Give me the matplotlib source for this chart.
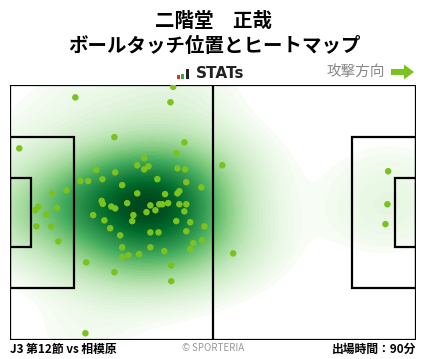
import numpy as np
import matplotlib
matplotlib.use("Agg")
import matplotlib.pyplot as plt
from matplotlib.patches import Rectangle, Polygon

plt.rcParams['font.family'] = ['Noto Sans CJK JP', 'DejaVu Sans']

PITCH_L = 105.0
PITCH_W = 68.0

player_name = "二階堂　正哉"
chart_title = "ボールタッチ位置とヒートマップ"
match_label = "J3 第12節 vs 相模原"
minutes_label = "出場時間：90分"

# ball touch positions (metres, x from own goal, y from top touchline)
touch_x = [16.9, 42.2, 41.5, 2.4, 27.0, 45.1, 43.0, 34.7, 32.9, 35.8,
           34.7, 43.3, 45.3, 22.3, 27.2, 18.2, 20.2, 23.9, 38.1, 45.6,
           29.0, 49.5, 14.6, 10.9, 32.9, 40.1, 43.8, 43.3, 23.7, 24.0,
           30.3, 7.3, 12.2, 36.3, 38.6, 39.4, 40.9, 43.8, 45.6, 26.2,
           27.2, 6.5, 9.4, 6.8, 10.7, 12.5, 37.6, 35.3, 45.1, 21.5,
           31.9, 24.4, 31.6, 43.0, 46.6, 50.3, 25.9, 36.3, 38.4, 45.6,
           28.5, 49.7, 47.4, 29.0, 36.3, 46.6, 39.9, 33.4, 30.6, 29.0,
           19.7, 41.7, 27.0, 41.7, 19.5, 54.9, 57.7, 97.8, 97.6, 97.1]
touch_y = [3.3, 0.5, 4.6, 16.9, 13.9, 15.3, 18.2, 19.5, 21.4, 21.7,
           22.5, 22.2, 22.5, 22.7, 23.3, 25.6, 25.6, 25.1, 25.1, 25.9,
           26.7, 27.3, 28.1, 28.9, 28.9, 29.1, 28.3, 28.9, 30.9, 31.7,
           31.5, 32.5, 32.8, 32.1, 31.8, 31.8, 31.5, 31.8, 31.8, 32.4,
           32.9, 33.4, 34.5, 37.7, 37.7, 41.7, 33.4, 33.9, 33.7, 34.7,
           34.7, 36.1, 36.3, 36.3, 36.6, 37.7, 38.2, 39.3, 39.3, 39.0,
           40.1, 41.4, 42.2, 43.3, 43.3, 43.8, 44.3, 45.1, 45.4, 45.9,
           47.3, 48.1, 49.9, 52.3, 66.2, 21.4, 44.9, 23.0, 31.8, 37.1]

BW_ADJUST = 1.35
THRESH = 0.03
N_LEVELS = 60
GAMMA = 0.85


def kde_grid(xs, ys, gx, gy):
    # gaussian kde, scott bandwidth, full covariance
    data = np.vstack([xs, ys])
    n = data.shape[1]
    cov = np.cov(data) * n ** (-2.0 / 6.0) * BW_ADJUST ** 2
    inv = np.linalg.inv(cov)
    X, Y = np.meshgrid(gx, gy)
    pts = np.vstack([X.ravel(), Y.ravel()])
    dens = np.zeros(pts.shape[1])
    for i in range(n):
        d = pts - data[:, i:i + 1]
        dens += np.exp(-0.5 * np.sum(d * (inv @ d), axis=0))
    return X, Y, dens.reshape(X.shape)


def iso_levels(Z, props):
    # density values that enclose given mass proportions (like seaborn)
    vals = np.sort(Z.ravel())[::-1]
    cum = np.cumsum(vals) / vals.sum()
    idx = np.searchsorted(cum, 1 - np.asarray(props))
    return np.take(vals, idx, mode="clip")


fig = plt.figure(figsize=(4.28, 3.59), dpi=100)
ax = fig.add_axes([10 / 428, 19 / 359, 406 / 428, 255 / 359])
ax.set_xlim(0, PITCH_L)
ax.set_ylim(PITCH_W, 0)
ax.axis("off")

gx = np.linspace(-15, PITCH_L + 15, 300)
gy = np.linspace(-15, PITCH_W + 15, 200)
X, Y, Z = kde_grid(np.array(touch_x), np.array(touch_y), gx, gy)
lv = iso_levels(Z, np.linspace(THRESH, 1, N_LEVELS))
lv = np.unique(lv)
lv = np.append(lv, Z.max() * 1.01)
greens = plt.get_cmap("Greens")
fill_cols = [greens(t ** GAMMA) for t in np.linspace(0, 1, len(lv) - 1)]
ax.contourf(X, Y, Z, levels=lv, colors=fill_cols, zorder=1)

# pitch lines
lc = "black"
lw = 1.6
ax.add_patch(Rectangle((0, 0), PITCH_L, PITCH_W, fill=False, ec=lc, lw=lw, zorder=3))
ax.plot([PITCH_L / 2, PITCH_L / 2], [0, PITCH_W], color=lc, lw=lw, zorder=3)
box_top = (PITCH_W - 40.32) / 2
ga_top = (PITCH_W - 18.32) / 2
ax.add_patch(Rectangle((0, box_top), 16.5, 40.32, fill=False, ec=lc, lw=lw, zorder=3))
ax.add_patch(Rectangle((PITCH_L - 16.5, box_top), 16.5, 40.32, fill=False, ec=lc, lw=lw, zorder=3))
ax.add_patch(Rectangle((0, ga_top), 5.5, 18.32, fill=False, ec=lc, lw=lw, zorder=3))
ax.add_patch(Rectangle((PITCH_L - 5.5, ga_top), 5.5, 18.32, fill=False, ec=lc, lw=lw, zorder=3))

ax.scatter(touch_x, touch_y, s=22, color="#7cc21e", edgecolors="none", zorder=4)

# header / footer overlay in pixel coords
ov = fig.add_axes([0, 0, 1, 1], facecolor="none")
ov.set_xlim(0, 428)
ov.set_ylim(359, 0)
ov.axis("off")

ov.text(214, 21, player_name, ha="center", va="center", fontsize=14, fontweight="bold")
ov.text(214, 46, chart_title, ha="center", va="center", fontsize=14, fontweight="bold")

# STATs logo
ov.add_patch(Rectangle((177, 75), 3.5, 4, color="#e03030", lw=0))
ov.add_patch(Rectangle((181, 73.5), 3.5, 5.5, color="#3aaa35", lw=0))
ov.add_patch(Rectangle((186, 69), 3.5, 10, color="#222222", lw=0))
ov.text(196, 74, "STATs", ha="left", va="center", fontsize=11, fontweight="bold",
        family="DejaVu Sans", color="#222222")

ov.text(385, 72, "攻撃方向", ha="right", va="center", fontsize=10.5, color="#888888")
arrow = [(391, 69), (404, 69), (404, 64.5), (414, 72), (404, 79.5), (404, 75), (391, 75)]
ov.add_patch(Polygon(arrow, closed=True, color="#7cc21e", lw=0))

ov.text(10, 349, match_label, ha="left", va="center", fontsize=8.5, fontweight="bold")
ov.text(213, 348, "© SPORTERIA", ha="center", va="center", fontsize=7, color="#999999")
ov.text(416, 349, minutes_label, ha="right", va="center", fontsize=8.5, fontweight="bold")

fig.savefig("out.png", dpi=100, facecolor="white")
